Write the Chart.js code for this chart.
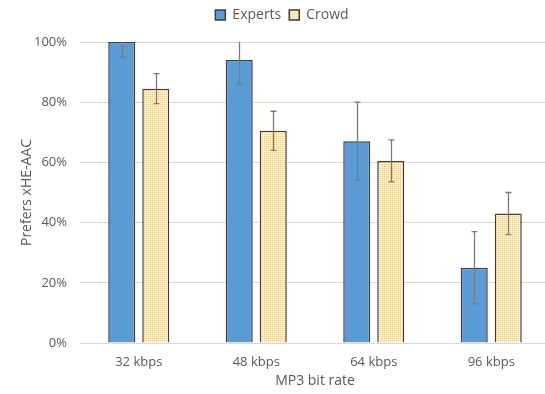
<!DOCTYPE html>
<html>
<head>
<meta charset="utf-8">
<script src="https://cdn.jsdelivr.net/npm/chart.js@4/dist/chart.umd.min.js"></script>
<style>
  html, body { margin: 0; padding: 0; background: #ffffff; overflow: hidden; }
  canvas { display: block; }
</style>
</head>
<body>
<canvas id="chart" width="550" height="394"></canvas>
<script>
// Share of listeners preferring xHE-AAC over MP3 at each bit rate (%)
const categories = ['32 kbps', '48 kbps', '64 kbps', '96 kbps'];
const expertsValues = [100, 94, 67, 25];
const crowdValues = [84.5, 70.5, 60.5, 43];
// Half-width of the error bars (percentage points)
const expertsErrors = [5, 8, 13, 12];
const crowdErrors = [5, 6.5, 7, 7];
const yTicks = [0, 20, 40, 60, 80, 100];

const TEXT = '#595959';
Chart.defaults.font.family = "'Open Sans', 'Noto Sans', sans-serif";
Chart.defaults.color = TEXT;

// Small orange check fill used for the crowd bars
function makeCheckPattern() {
  const c = document.createElement('canvas');
  c.width = 4; c.height = 4;
  const g = c.getContext('2d');
  const O = '#f8d089', L = '#fce8c4', W = '#fffbf3';
  const rows = [[O, L, O, L], [L, W, L, W], [O, L, O, L], [L, W, L, W]];
  rows.forEach((r, y) => r.forEach((col, x) => { g.fillStyle = col; g.fillRect(x, y, 1, 1); }));
  return g.createPattern(c, 'repeat');
}

const errorBars = {
  id: 'errorBars',
  afterDatasetsDraw(chart) {
    const ctx = chart.ctx;
    const area = chart.chartArea;
    const y = chart.scales.y;
    ctx.save();
    ctx.strokeStyle = '#7a7a7a';
    ctx.lineWidth = 1.3;
    chart.data.datasets.forEach((ds, di) => {
      const meta = chart.getDatasetMeta(di);
      meta.data.forEach((bar, i) => {
        const v = ds.data[i], e = ds.errors[i];
        const x = Math.round(bar.x) + 0.5;
        const yHiRaw = y.getPixelForValue(v + e);
        const yLoRaw = y.getPixelForValue(v - e);
        const yHi = Math.max(yHiRaw, area.top);
        const yLo = Math.min(yLoRaw, area.bottom);
        ctx.beginPath();
        ctx.moveTo(x, yHi);
        ctx.lineTo(x, yLo);
        if (yHiRaw >= area.top) { ctx.moveTo(x - 3, yHi); ctx.lineTo(x + 3, yHi); }
        if (yLoRaw <= area.bottom) { ctx.moveTo(x - 3, yLo); ctx.lineTo(x + 3, yLo); }
        ctx.stroke();
      });
    });
    ctx.restore();
  }
};

// Leave room between the legend and the plot
const legendSpacing = {
  id: 'legendSpacing',
  beforeInit(chart) {
    const origFit = chart.legend.fit;
    chart.legend.fit = function () {
      origFit.bind(chart.legend)();
      this.height = 42;
    };
  }
};

const ctx = document.getElementById('chart').getContext('2d');
const checks = makeCheckPattern();

new Chart(ctx, {
  type: 'bar',
  data: {
    labels: categories,
    datasets: [
      {
        label: 'Experts',
        data: expertsValues,
        errors: expertsErrors,
        backgroundColor: '#5b9bd5',
        borderColor: '#3d3d3d',
        borderWidth: 1.5,
        categoryPercentage: 0.579,
        barPercentage: 0.794
      },
      {
        label: 'Crowd',
        data: crowdValues,
        errors: crowdErrors,
        backgroundColor: checks,
        borderColor: '#3d3d3d',
        borderWidth: 1.5,
        categoryPercentage: 0.579,
        barPercentage: 0.794
      }
    ]
  },
  options: {
    responsive: false,
    animation: false,
    devicePixelRatio: 1,
    layout: { padding: { left: 14, right: 0, top: 0, bottom: 0 } },
    plugins: {
      legend: {
        position: 'top',
        labels: {
          boxWidth: 10,
          boxHeight: 10,
          padding: 8,
          color: TEXT,
          font: { size: 14 }
        }
      },
      tooltip: { enabled: false }
    },
    scales: {
      x: {
        grid: { display: false, drawTicks: false },
        border: { display: true, color: '#d9d9d9', width: 1 },
        ticks: { color: TEXT, font: { size: 13 }, padding: 11 },
        title: {
          display: true,
          text: 'MP3 bit rate',
          color: TEXT,
          font: { size: 14 },
          padding: { top: 4, bottom: 5 }
        },
        afterFit(scale) { scale.height = 51; }
      },
      y: {
        min: 0,
        max: 100,
        afterBuildTicks(scale) { scale.ticks = yTicks.map(v => ({ value: v })); },
        grid: { color: '#d9d9d9', lineWidth: 1, drawTicks: false },
        border: { display: false },
        ticks: {
          color: TEXT,
          font: { size: 13 },
          padding: 13,
          callback: v => v + '%'
        },
        title: {
          display: true,
          text: 'Prefers xHE-AAC',
          color: TEXT,
          font: { size: 14 },
          padding: { top: 5, bottom: 4 }
        },
        afterFit(scale) { scale.width = 66; }
      }
    }
  },
  plugins: [errorBars, legendSpacing]
});
</script>
</body>
</html>
